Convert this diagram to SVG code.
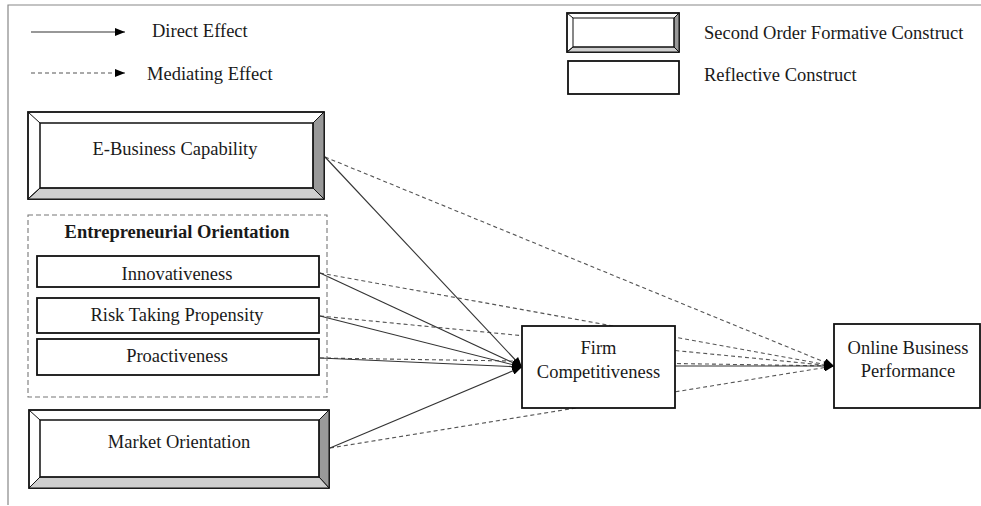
<svg xmlns="http://www.w3.org/2000/svg" width="981" height="506" viewBox="0 0 981 506">
<style>
text{font-family:"Liberation Serif","Times New Roman",serif;font-size:18.5px;fill:#1a1a1a}
.c{text-anchor:middle}
.b{font-weight:bold}
.box{fill:#fff;stroke:#111;stroke-width:1.8}
.frame{stroke:#888;stroke-width:1.2;fill:none}
.solid{stroke:#333;stroke-width:1.1;fill:none}
.dash{stroke:#555;stroke-width:1.1;fill:none;stroke-dasharray:4,3}
.bevR{fill:#999;stroke:#111;stroke-width:1}
.bevB{fill:#cfcfcf;stroke:#111;stroke-width:1}
.diag{stroke:#111;stroke-width:1}
.eo{fill:none;stroke:#777;stroke-width:1.1;stroke-dasharray:5,3}
</style>
<defs>
<marker id="ah" markerWidth="10" markerHeight="8" refX="10" refY="4" orient="auto" markerUnits="userSpaceOnUse">
<path d="M0,0 L10,4 L0,8 z" fill="#000"/>
</marker>
</defs>
<rect width="981" height="506" fill="#fff"/>
<path class="frame" d="M8,505 V5 H981"/>

<g id="legend">
<line class="solid" x1="31" y1="32" x2="125" y2="32" marker-end="url(#ah)"/>
<text x="152" y="37">Direct Effect</text>
<line class="dash" x1="31" y1="73" x2="125" y2="73" marker-end="url(#ah)"/>
<text x="147" y="80">Mediating Effect</text>
<rect class="box" x="567" y="13" width="112" height="39"/>
<polygon class="bevR" points="674,18 679,13 679,52 674,47"/>
<polygon class="bevB" points="573,47 674,47 679,52 567,52"/>
<line class="diag" x1="567" y1="13" x2="573" y2="18"/>
<line class="diag" x1="567" y1="52" x2="573" y2="47"/>
<rect x="573" y="18" width="101" height="29" fill="none" stroke="#111" stroke-width="1"/>
<text x="704" y="39">Second Order Formative Construct</text>
<rect class="box" x="568" y="61" width="111" height="33"/>
<text x="704" y="81">Reflective Construct</text>
</g>

<g id="connectors">
<line class="dash" x1="325" y1="157" x2="834" y2="366" marker-end="url(#ah)"/>
<line class="dash" x1="320" y1="273" x2="834" y2="366" marker-end="url(#ah)"/>
<line class="dash" x1="320" y1="316" x2="834" y2="366" marker-end="url(#ah)"/>
<line class="dash" x1="320" y1="358" x2="834" y2="366" marker-end="url(#ah)"/>
<line class="dash" x1="330" y1="448" x2="834" y2="366" marker-end="url(#ah)"/>
<line class="solid" x1="325" y1="157" x2="522" y2="367" marker-end="url(#ah)"/>
<line class="solid" x1="320" y1="273" x2="522" y2="367" marker-end="url(#ah)"/>
<line class="solid" x1="320" y1="316" x2="522" y2="367" marker-end="url(#ah)"/>
<line class="solid" x1="320" y1="358" x2="522" y2="367" marker-end="url(#ah)"/>
<line class="solid" x1="330" y1="448" x2="522" y2="367" marker-end="url(#ah)"/>
<line class="solid" x1="675" y1="366" x2="834" y2="366" marker-end="url(#ah)"/>
</g>

<g id="ebusiness">
<rect class="box" x="28" y="112" width="296" height="87"/>
<polygon class="bevR" points="313,123 324,112 324,199 313,188"/>
<polygon class="bevB" points="40,188 313,188 324,199 28,199"/>
<line class="diag" x1="28" y1="112" x2="40" y2="123"/>
<line class="diag" x1="28" y1="199" x2="40" y2="188"/>
<rect x="40" y="123" width="273" height="65" fill="none" stroke="#111" stroke-width="1.5"/>
<text class="c" x="175" y="155">E-Business Capability</text>
</g>

<g id="eo">
<rect class="eo" x="28" y="215" width="299" height="182"/>
<text class="c b" x="177" y="238">Entrepreneurial Orientation</text>
</g>
<g id="innovativeness">
<rect class="box" x="37" y="256" width="282" height="31"/>
<text class="c" x="177" y="280">Innovativeness</text>
</g>
<g id="risk">
<rect class="box" x="37" y="298" width="282" height="35"/>
<text class="c" x="177" y="321">Risk Taking Propensity</text>
</g>
<g id="proactiveness">
<rect class="box" x="37" y="339" width="282" height="36"/>
<text class="c" x="177" y="362">Proactiveness</text>
</g>

<g id="market">
<rect class="box" x="29" y="410" width="300" height="78"/>
<polygon class="bevR" points="319,420 329,410 329,488 319,477"/>
<polygon class="bevB" points="40,477 319,477 329,488 29,488"/>
<line class="diag" x1="29" y1="410" x2="40" y2="420"/>
<line class="diag" x1="29" y1="488" x2="40" y2="477"/>
<rect x="40" y="420" width="279" height="57" fill="none" stroke="#111" stroke-width="1.5"/>
<text class="c" x="179" y="448">Market Orientation</text>
</g>

<g id="firm">
<rect class="box" x="522" y="326" width="153" height="82"/>
<text class="c" x="598.5" y="354">Firm</text>
<text class="c" x="598.5" y="378">Competitiveness</text>
</g>

<g id="obp">
<rect class="box" x="834" y="324" width="146" height="84"/>
<text class="c" x="908" y="354">Online Business</text>
<text class="c" x="908" y="377">Performance</text>
</g>
</svg>
